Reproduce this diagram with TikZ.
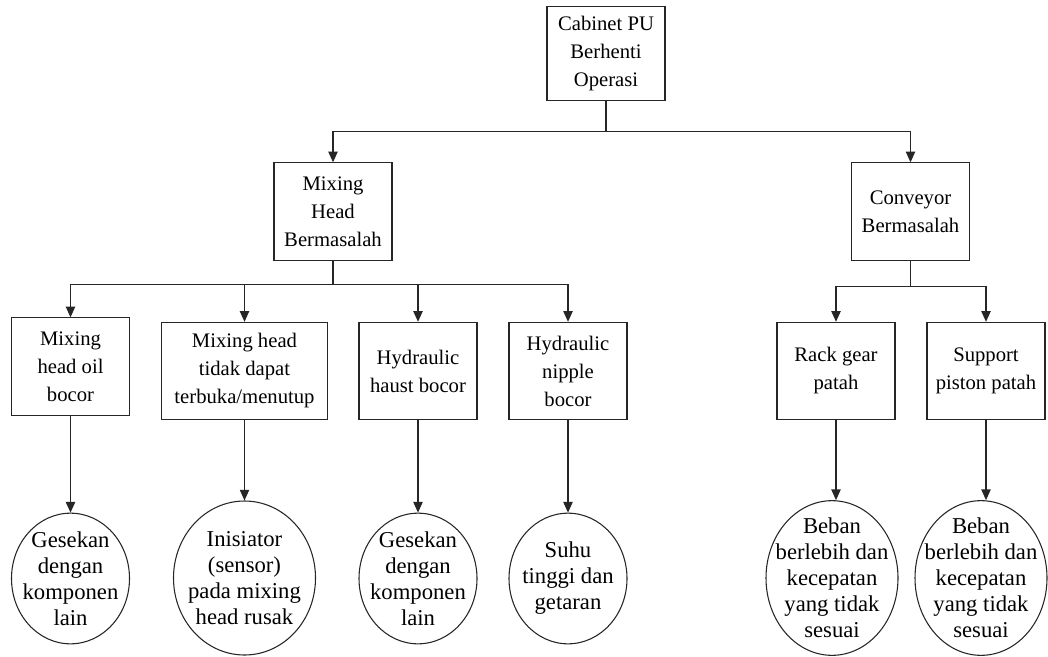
\documentclass[tikz,border=0pt]{standalone}
\usepackage{fontspec}
\setmainfont{Liberation Serif}
\usetikzlibrary{arrows.meta,shapes.geometric,positioning}

\begin{document}
\begin{tikzpicture}[x=0.75pt,y=-0.75pt,
  box/.style={rectangle,draw=black!85,line width=0.8pt,align=center,
              font=\fontsize{15.5}{21}\selectfont,inner sep=3pt,
              minimum width=88.5pt,minimum height=73pt},
  cause/.style={ellipse,draw=black!85,line width=0.8pt,align=center,
              font=\fontsize{17}{19.5}\selectfont,inner xsep=-12pt,inner ysep=-8pt,
              minimum width=88.5pt,minimum height=98pt},
  arr/.style={draw=black!85,line width=0.8pt,-{Triangle[length=8pt,width=7pt]}}]
\useasboundingbox (0,0) rectangle (1048,656);

% top event and the two sub-systems
\node[box,minimum height=70pt] (top) at (606,53.5) {Cabinet PU\\Berhenti\\Operasi};
\node[box] (mh) at (333,211.5) {Mixing\\Head\\Bermasalah};
\node[box] (cv) at (910.5,211.5) {Conveyor\\Bermasalah};

% failure modes
\node[box] (c1) at (70.5,366.5) {Mixing\\head oil\\bocor};
\node[box,minimum width=124pt] (c2) at (244.5,371) {Mixing head\\tidak dapat\\terbuka/menutup};
\node[box] (c3) at (418,371) {Hydraulic\\haust bocor};
\node[box] (c4) at (568,371) {Hydraulic\\nipple\\bocor};
\node[box] (c5) at (836,371) {Rack gear\\patah};
\node[box] (c6) at (986,371) {Support\\piston patah};

% causes
\node[cause] (e1) at (70.5,578.5) {Gesekan\\dengan\\komponen\\lain};
\node[cause,minimum width=106.5pt,minimum height=115.5pt] (e2) at (244.5,578) {Inisiator\\(sensor)\\pada mixing\\head rusak};
\node[cause] (e3) at (418,578.5) {Gesekan\\dengan\\komponen\\lain};
\node[cause] (e4) at (568,578.5) {Suhu\\tinggi dan\\getaran};
\node[cause,minimum width=99pt,minimum height=116pt] (e5) at (832,578) {Beban\\berlebih dan\\kecepatan\\yang tidak\\sesuai};
\node[cause,minimum width=99pt,minimum height=116pt] (e6) at (981,578) {Beban\\berlebih dan\\kecepatan\\yang tidak\\sesuai};

\draw[arr] (top.south) -- ++(0,31) -| (mh.north);
\draw[arr] (top.south) -- ++(0,31) -| (cv.north);
\foreach \c in {c1,c2,c3,c4}
  \draw[arr] (mh.south) -- ++(0,24) -| (\c.north);
\foreach \c in {c5,c6}
  \draw[arr] (cv.south) -- ++(0,26) -| (\c.north);
\foreach \i in {1,...,6}
  \draw[arr] (c\i.south) -- (c\i.south |- e\i.north);
\end{tikzpicture}
\end{document}
